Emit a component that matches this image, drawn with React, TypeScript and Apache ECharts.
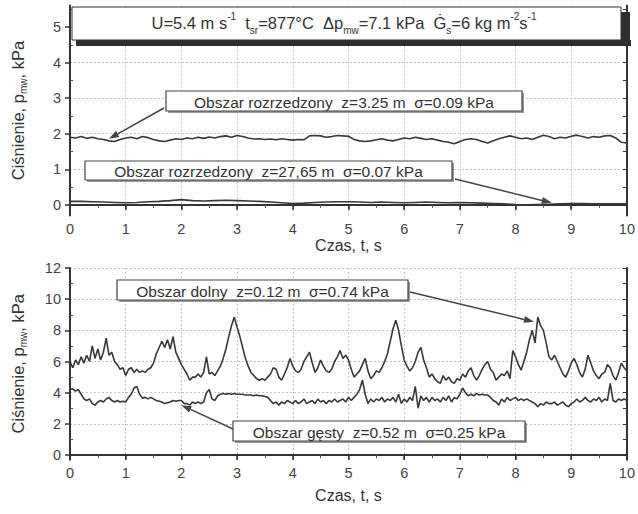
import React, { useEffect, useRef } from 'react';
import * as echarts from 'echarts';

// ---- data ----
const TIME_STEP_FINE = 0.05; // s, lower panel samples
const TIME_STEP_MID = 0.1; // s, z=3.25 m samples
const TIME_STEP_COARSE = 0.2; // s, z=27.65 m samples

// Obszar dolny z=0.12 m
const dolny012 = [
  6.0, 5.6, 6.1, 5.8, 6.3, 5.9, 6.4, 6.0, 7.0, 6.2, 6.8, 6.1, 6.6, 7.5, 6.4, 6.6, 6.0, 5.8, 5.5, 5.6,
  5.1, 5.5, 5.6, 5.3, 5.5, 5.3, 5.4, 5.3, 5.5, 5.6, 5.9, 6.5, 6.9, 7.3, 6.9, 7.4, 6.8, 7.6, 6.6, 6.2,
  5.8, 5.5, 5.2, 4.8, 5.0, 5.0, 5.2, 5.0, 5.3, 6.3, 5.2, 5.3, 5.1, 5.4, 5.7, 6.2, 6.8, 7.6, 8.3, 8.85,
  8.2, 7.6, 6.9, 6.2, 5.7, 5.3, 5.1, 4.9, 4.8, 4.9, 4.8, 5.0, 5.2, 5.6, 5.5, 5.0, 4.8, 5.2, 5.6, 6.2,
  5.7, 5.4, 5.3, 5.5, 6.0, 6.3, 6.6, 5.9, 5.3, 5.6, 6.1, 5.7, 5.4, 5.3, 5.5, 6.0, 6.3, 6.7, 6.2, 6.4,
  6.1, 5.5, 5.0, 5.2, 5.4, 5.8, 6.2, 5.4, 4.9, 5.1, 5.4, 5.3, 5.6, 6.0, 6.5, 7.3, 8.1, 8.65, 8.0, 7.0,
  6.1, 5.7, 5.4, 5.6, 6.0, 6.6, 6.9, 6.1, 5.6, 5.0, 5.2, 4.9, 4.7, 4.6, 5.1, 4.8, 5.0, 4.7, 4.6, 4.9,
  4.8, 5.2, 5.0, 5.4, 5.6, 5.1, 4.8, 5.1, 5.5, 5.8, 6.0, 5.5, 5.3, 4.8, 5.0, 5.2, 5.1, 5.4, 4.9, 6.7,
  6.3, 5.8, 5.45, 6.0, 6.6, 7.4, 8.0, 7.2, 8.85, 8.3, 8.0, 7.2, 6.3, 6.1, 6.4, 6.0, 5.6, 5.2, 5.0, 5.4,
  5.9, 6.2, 5.8, 5.3, 5.0, 5.5, 6.4, 5.9, 5.4, 5.1, 4.9, 5.2, 5.3, 5.8, 5.6, 5.1, 4.8, 5.3, 5.9, 5.6,
  5.4,
];

// Obszar gęsty z=0.52 m
const gesty052 = [
  4.2, 4.25, 4.1, 4.2, 3.9, 3.6, 3.5, 3.6, 3.3, 3.2, 3.4, 3.5, 3.4, 3.6, 3.7, 3.5, 3.4, 3.5, 3.4, 3.45,
  3.4, 3.7, 3.9, 4.3, 4.4, 3.9, 3.65, 3.7, 3.6, 3.7, 3.6, 3.5, 3.45, 3.4, 3.3, 3.35, 3.4, 3.5, 3.45, 3.5,
  3.5, 3.3, 3.3, 3.2, 3.4, 3.3, 3.4, 3.3, 3.4, 4.0, 4.2, 3.6, 3.5, 3.8, 3.9, 3.95, 3.9, 3.95, 3.9, 3.95,
  3.9, 3.9, 3.9, 3.85, 3.85, 3.85, 3.8, 3.85, 3.8, 3.8, 3.75, 3.7, 3.5, 3.3, 3.4, 3.2, 3.4, 3.3, 3.5, 3.4,
  3.3, 3.5, 3.3, 3.4, 3.6, 3.3, 3.4, 3.5, 3.3, 3.6, 3.4, 3.5, 3.3, 3.5, 3.4, 3.6, 3.4, 3.5, 3.6, 3.4,
  3.7, 3.5, 3.7, 3.9, 4.2, 4.8, 3.9, 3.3, 3.6, 3.4, 3.6, 3.5, 3.7, 3.4, 3.6, 3.5, 3.7, 3.4, 3.9, 3.3,
  3.6, 3.4, 3.7, 3.5, 4.4, 3.0, 3.8, 3.5, 3.7, 3.4, 3.7, 3.5, 3.6, 3.4, 3.7, 3.5, 3.8, 3.4, 3.7, 3.6,
  3.9, 4.3, 4.0, 3.8, 3.9, 3.8, 3.95, 3.85, 3.9, 3.85, 3.85, 3.7, 3.5, 3.4, 3.2, 3.6, 3.4, 3.7, 3.5, 3.6,
  3.7, 3.5, 3.6, 3.5, 3.6, 3.5, 3.4, 3.3, 3.1, 3.3, 3.2, 3.4, 3.3, 3.3, 3.4, 3.2, 3.3, 3.4, 3.2, 3.1,
  3.3, 3.4, 3.6, 3.4, 3.5, 3.7, 3.5, 3.4, 3.6, 3.5, 3.7, 3.4, 3.6, 3.5, 4.6, 3.5, 3.4, 3.6, 3.5, 3.6,
  3.5,
];

// Obszar rozrzedzony z=3.25 m
const rozrz325 = [
  1.9, 1.88, 1.92, 1.87, 1.9, 1.86, 1.84, 1.8, 1.78, 1.84,
  1.88, 1.9, 1.86, 1.92, 1.89, 1.84, 1.8, 1.78, 1.82, 1.86,
  1.84, 1.88, 1.86, 1.9, 1.87, 1.91, 1.88, 1.92, 1.94, 1.9,
  1.95, 1.92, 1.88, 1.85, 1.86, 1.84, 1.85, 1.83, 1.86, 1.84,
  1.82, 1.84, 1.83, 1.94, 1.95, 1.94, 1.9, 1.92, 1.95, 1.94,
  1.93, 1.84, 1.8, 1.78, 1.8, 1.83, 1.86, 1.82, 1.8, 1.84,
  1.88, 1.86, 1.9, 1.87, 1.84, 1.86, 1.82, 1.78, 1.76, 1.72,
  1.78, 1.84, 1.86, 1.84, 1.78, 1.74, 1.8, 1.86, 1.9, 1.94,
  1.9, 1.86, 1.88, 1.84, 1.9, 1.96, 1.92, 1.86, 1.9, 1.88,
  1.93, 1.96, 1.92, 1.88, 1.92, 1.9, 1.94, 1.95, 1.88, 1.76, 1.74,
];

// Obszar rozrzedzony z=27,65 m
const rozrz2765 = [
  0.1, 0.1, 0.09, 0.08, 0.07, 0.06, 0.07, 0.09, 0.1, 0.12,
  0.15, 0.12, 0.11, 0.12, 0.13, 0.12, 0.11, 0.1, 0.08, 0.06,
  0.04, 0.05, 0.07, 0.08, 0.09, 0.09, 0.08, 0.07, 0.08, 0.07,
  0.06, 0.07, 0.08, 0.07, 0.06, 0.07, 0.06, 0.05, 0.04, 0.03,
  0.01, 0.0, 0.01, 0.02, 0.03, 0.04, 0.04, 0.03, 0.03, 0.03, 0.03,
];

const topYTicks = [0, 1, 2, 3, 4, 5];
const topYMinor = [0.5, 1.5, 2.5, 3.5, 4.5, 5.5];
const botYTicks = [0, 2, 4, 6, 8, 10, 12];
const botYMinor = [1, 3, 5, 7, 9, 11];

const TEXT_FONT = "'Liberation Sans', Arial, Helvetica, sans-serif";
const INK = '#333';
const LINE = '#383838';

function toPairs(values: number[], step: number) {
  return values.map((v, i) => [Math.round(i * step * 1000) / 1000, v]);
}

function arrow(from: number[], tip: number[]) {
  const dx = tip[0] - from[0];
  const dy = tip[1] - from[1];
  const len = Math.sqrt(dx * dx + dy * dy);
  const ux = dx / len;
  const uy = dy / len;
  const hl = 10;
  const hw = 3.5;
  const bx = tip[0] - ux * hl;
  const by = tip[1] - uy * hl;
  return [
    {
      type: 'line',
      z: 100,
      shape: { x1: from[0], y1: from[1], x2: bx, y2: by },
      style: { stroke: '#444', lineWidth: 1.5 },
    },
    {
      type: 'polygon',
      z: 100,
      shape: {
        points: [
          [tip[0], tip[1]],
          [bx - uy * hw, by + ux * hw],
          [bx + uy * hw, by - ux * hw],
        ],
      },
      style: { fill: '#444' },
    },
  ];
}

function labelBox(x: number, y: number, w: number, h: number, text: string) {
  return [
    {
      type: 'rect',
      z: 100,
      shape: { x: x + 2, y: y + 2, width: w, height: h },
      style: { fill: '#9a9a9a' },
    },
    {
      type: 'rect',
      z: 101,
      shape: { x, y, width: w, height: h },
      style: { fill: '#fff', stroke: '#444', lineWidth: 1.2 },
    },
    {
      type: 'text',
      z: 102,
      x: x + w / 2,
      y: y + h / 2 + 1,
      style: {
        text,
        fill: INK,
        fontSize: 15.5,
        fontFamily: TEXT_FONT,
        align: 'center',
        verticalAlign: 'middle',
      },
    },
  ];
}

function xAxisPair(gridIndex: number, nameGap: number) {
  const common = {
    type: 'value',
    gridIndex,
    min: 0,
    max: 10,
    interval: 1,
  };
  return [
    {
      ...common,
      position: 'bottom',
      name: 'Czas, t, s',
      nameLocation: 'middle',
      nameGap,
      nameTextStyle: { fontSize: 16, color: INK, fontFamily: TEXT_FONT },
      axisLine: { show: true, lineStyle: { color: INK, width: 2 } },
      axisTick: { show: true, length: 5, lineStyle: { color: INK, width: 1.5 } },
      minorTick: { show: true, splitNumber: 2, length: 3, lineStyle: { color: '#555' } },
      axisLabel: { fontSize: 14.5, color: '#444', fontFamily: TEXT_FONT, margin: 6 },
      splitLine: { show: true, lineStyle: { color: '#c4c4c4', type: [2, 2], width: 1 } },
    },
    {
      ...common,
      position: 'top',
      axisLine: { show: true, lineStyle: { color: INK, width: 2 } },
      axisTick: { show: true, inside: true, length: 4, lineStyle: { color: INK } },
      minorTick: { show: true, splitNumber: 2, length: 2, lineStyle: { color: '#555' } },
      axisLabel: { show: false },
      splitLine: { show: false },
    },
  ];
}

function yAxisSet(gridIndex: number, min: number, max: number, ticks: number[], minor: number[]) {
  const nameRich = {
    sub: { fontSize: 10, fontFamily: TEXT_FONT, color: INK, verticalAlign: 'bottom', lineHeight: 20 },
  };
  return [
    {
      type: 'value',
      gridIndex,
      min,
      max,
      position: 'left',
      name: 'Ciśnienie, p{sub|mw}, kPa',
      nameLocation: 'middle',
      nameGap: 42,
      nameTextStyle: { fontSize: 16.5, color: INK, fontFamily: TEXT_FONT, lineHeight: 20, rich: nameRich },
      axisLine: { show: true, lineStyle: { color: INK, width: 2 } },
      axisTick: { show: true, length: 5, customValues: ticks, lineStyle: { color: INK, width: 1.5 } },
      axisLabel: { fontSize: 14.5, color: '#444', fontFamily: TEXT_FONT, margin: 9, customValues: ticks },
      splitLine: { show: true, lineStyle: { color: '#c4c4c4', type: [2, 2], width: 1 } },
    },
    {
      type: 'value',
      gridIndex,
      min,
      max,
      position: 'left',
      axisLine: { show: false },
      axisTick: { show: true, inside: true, length: 3, customValues: minor, lineStyle: { color: '#555' } },
      axisLabel: { show: false },
      splitLine: { show: false },
    },
    {
      type: 'value',
      gridIndex,
      min,
      max,
      position: 'right',
      axisLine: { show: true, lineStyle: { color: INK, width: 2 } },
      axisTick: { show: true, inside: true, length: 4, customValues: ticks.concat(minor), lineStyle: { color: INK } },
      axisLabel: { show: false },
      splitLine: { show: false },
    },
  ];
}

function seriesLine(name: string, data: number[][], xi: number, yi: number) {
  return {
    name,
    type: 'line',
    xAxisIndex: xi,
    yAxisIndex: yi,
    data,
    showSymbol: false,
    symbol: 'none',
    lineStyle: { color: LINE, width: 1.6 },
    z: 5,
  };
}

export default function App() {
  const ref = useRef<HTMLDivElement>(null);

  useEffect(() => {
    if (!ref.current) return;
    const chart = echarts.init(ref.current, null, { renderer: 'svg' });

    const TOP_MIN = -0.3;
    const TOP_MAX = 5.6;
    const BOT_MIN = -0.3;
    const BOT_MAX = 12;

    const option: any = {
      animation: false,
      backgroundColor: '#fff',
      textStyle: { fontFamily: TEXT_FONT },
      grid: [
        { left: 69, top: 5.6, width: 562, height: 210, show: false },
        { left: 69, top: 268, width: 562, height: 191.7, show: false },
      ],
      xAxis: [...xAxisPair(0, 21), ...xAxisPair(1, 28)],
      yAxis: [
        ...yAxisSet(0, TOP_MIN, TOP_MAX, topYTicks, topYMinor),
        ...yAxisSet(1, BOT_MIN, BOT_MAX, botYTicks, botYMinor),
      ],
      series: [
        seriesLine('z=3.25 m', toPairs(rozrz325, TIME_STEP_MID), 0, 0),
        seriesLine('z=27,65 m', toPairs(rozrz2765, TIME_STEP_COARSE), 0, 0),
        seriesLine('z=0.12 m', toPairs(dolny012, TIME_STEP_FINE), 2, 3),
        seriesLine('z=0.52 m', toPairs(gesty052, TIME_STEP_FINE), 2, 3),
      ],
    };
    chart.setOption(option);

    const p0 = (pt: number[]) => chart.convertToPixel({ xAxisIndex: 0, yAxisIndex: 0 }, pt) as number[];
    const p1 = (pt: number[]) => chart.convertToPixel({ xAxisIndex: 2, yAxisIndex: 3 }, pt) as number[];

    const headerRich = {
      b: { fontSize: 16.5, fontFamily: TEXT_FONT, color: INK, lineHeight: 24 },
      sup: { fontSize: 10, fontFamily: TEXT_FONT, color: INK, verticalAlign: 'top', lineHeight: 24 },
      sub: { fontSize: 10, fontFamily: TEXT_FONT, color: INK, verticalAlign: 'bottom', lineHeight: 24 },
    };

    const graphic: any[] = [
      // header box with heavy shadow
      { type: 'rect', z: 100, shape: { x: 76, y: 40, width: 555, height: 6 }, style: { fill: '#2e2e2e' } },
      { type: 'rect', z: 100, shape: { x: 621, y: 12, width: 9, height: 34 }, style: { fill: '#2e2e2e' } },
      { type: 'rect', z: 101, shape: { x: 72, y: 7, width: 549, height: 33 }, style: { fill: '#fff', stroke: '#333', lineWidth: 1 } },
      {
        type: 'text',
        z: 102,
        x: 344,
        y: 23,
        style: {
          text:
            '{b|U=5.4 m s}{sup|-1}{b|  t}{sub|sr}{b|=877°C  Δp}{sub|mw}{b|=7.1 kPa  Ġ}{sub|s}{b|=6 kg m}{sup|-2}{b|s}{sup|-1}',
          rich: headerRich,
          align: 'center',
          verticalAlign: 'middle',
          fill: INK,
        },
      },
      ...labelBox(166, 91, 356, 20, 'Obszar rozrzedzony  z=3.25 m  σ=0.09 kPa'),
      ...arrow([164, 108], p0([0.7, 1.86])),
      ...labelBox(85, 161, 367, 19, 'Obszar rozrzedzony  z=27,65 m  σ=0.07 kPa'),
      ...arrow([455, 179], p0([8.65, 0.06])),
      ...labelBox(117, 280, 291, 20, 'Obszar dolny  z=0.12 m  σ=0.74 kPa'),
      ...arrow([410, 292], p1([8.33, 8.55])),
      ...labelBox(233, 421, 292, 20, 'Obszar gęsty  z=0.52 m  σ=0.25 kPa'),
      ...arrow([233, 429], p1([2.0, 3.2])),
    ];

    chart.setOption({ graphic });

    return () => {
      chart.dispose();
    };
  }, []);

  return (
    <div
      ref={ref}
      style={{ position: 'absolute', left: 0, top: 0, width: 638, height: 514, background: '#fff' }}
    />
  );
}
